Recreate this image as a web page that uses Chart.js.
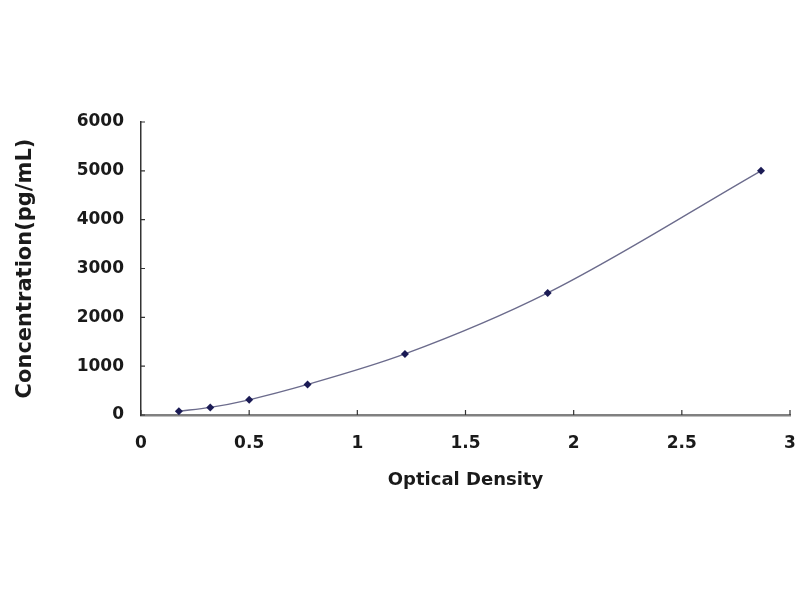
<!DOCTYPE html>
<html>
<head>
<meta charset="utf-8">
<title>Standard curve</title>
<script src="https://cdn.jsdelivr.net/npm/chart.js@4.4.0/dist/chart.umd.min.js"></script>
<style>
  html, body { margin: 0; padding: 0; background: #fff; }
  #curve { display: block; }
</style>
</head>
<body>
<canvas id="curve" width="800" height="600"></canvas>
<script>
// standard curve: optical density vs concentration
const opticalDensity = [0.175, 0.32, 0.50, 0.77, 1.22, 1.88, 2.866];
const concentration = [78, 156, 312, 625, 1250, 2500, 5000];

const xTitle = "Optical Density";
const yTitle = "Concentration(pg/mL)";

const points = opticalDensity.map((od, i) => ({ x: od, y: concentration[i] }));

// small tick marks pointing into the plot, like the original
const innerTicks = {
    id: "innerTicks",
    afterDraw(chart) {
        const ctx = chart.ctx;
        const xs = chart.scales.x;
        const ys = chart.scales.y;
        ctx.save();
        ctx.strokeStyle = "#333";
        ctx.lineWidth = 1.2;
        ctx.beginPath();
        xs.ticks.forEach(t => {
            const px = xs.getPixelForValue(t.value);
            ctx.moveTo(px, ys.bottom);
            ctx.lineTo(px, ys.bottom - 5);
        });
        ys.ticks.forEach(t => {
            const py = ys.getPixelForValue(t.value);
            ctx.moveTo(xs.left, py);
            ctx.lineTo(xs.left + 4, py);
        });
        ctx.stroke();
        ctx.restore();
    }
};

const font = "'DejaVu Sans', sans-serif";

new Chart(document.getElementById("curve"), {
    type: "scatter",
    data: {
        datasets: [{
            data: points,
            showLine: true,
            borderColor: "#6b6b8c",
            borderWidth: 1.3,
            cubicInterpolationMode: "monotone",
            pointStyle: "rectRot",
            pointRadius: 4,
            pointBackgroundColor: "#1b1b55",
            pointBorderColor: "#1b1b55",
            pointBorderWidth: 0
        }]
    },
    options: {
        responsive: false,
        animation: false,
        layout: { padding: { left: 0, right: 10, top: 122, bottom: 105 } },
        plugins: {
            legend: { display: false },
            tooltip: { enabled: false }
        },
        scales: {
            x: {
                type: "linear",
                min: 0,
                max: 3,
                afterFit: s => { s.height = 80; s.paddingLeft = 0; s.paddingRight = 0; },
                ticks: {
                    stepSize: 0.5,
                    padding: 18,
                    color: "#1a1a1a",
                    callback: v => String(v),
                    font: { family: font, size: 17, weight: "bold" }
                },
                grid: { drawOnChartArea: false, drawTicks: false },
                border: { color: "#808080", width: 2.5 },
                title: {
                    display: true,
                    text: xTitle,
                    color: "#1a1a1a",
                    padding: { top: 0, bottom: 4 },
                    font: { family: font, size: 18, weight: "bold" }
                }
            },
            y: {
                min: 0,
                max: 6000,
                afterFit: s => { s.width = 141; },
                ticks: {
                    stepSize: 1000,
                    padding: 17,
                    color: "#1a1a1a",
                    callback: v => String(v),
                    font: { family: font, size: 17, weight: "bold" }
                },
                grid: { drawOnChartArea: false, drawTicks: false },
                border: { color: "#333", width: 1.5 },
                title: {
                    display: true,
                    text: yTitle,
                    color: "#1a1a1a",
                    padding: { top: 13, bottom: 0 },
                    font: { family: font, size: 21, weight: "bold" }
                }
            }
        }
    },
    plugins: [innerTicks]
});
</script>
</body>
</html>
